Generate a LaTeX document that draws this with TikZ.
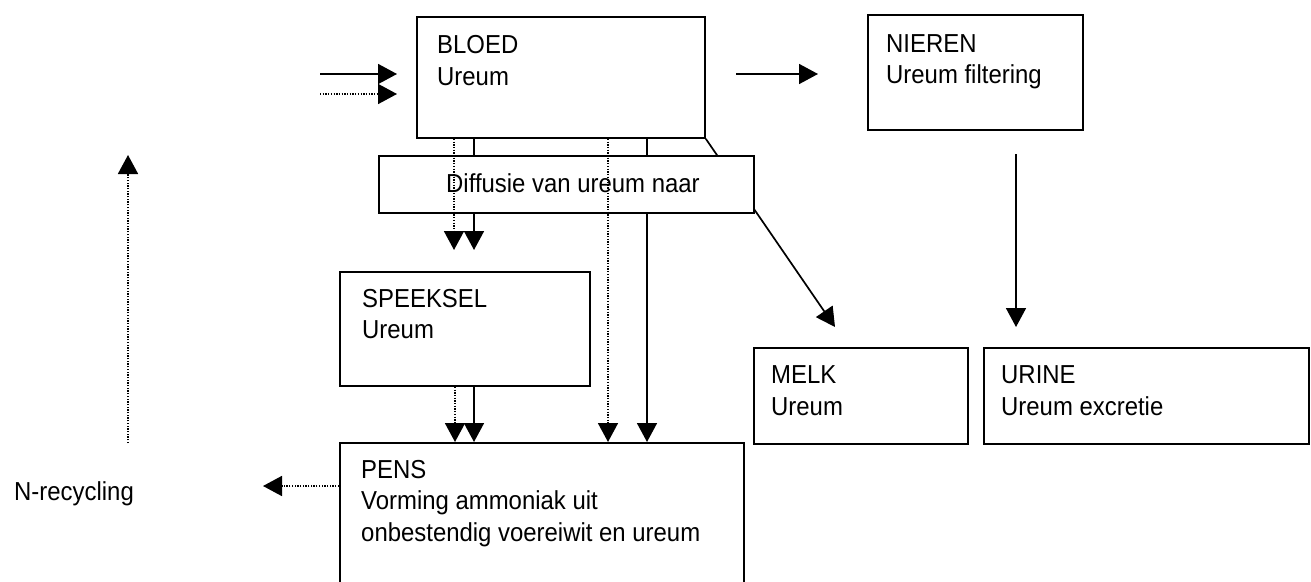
\documentclass[tikz,border=0pt]{standalone}
\usepackage{fontspec}
\setmainfont[FakeStretch=0.92]{Liberation Sans}
\usetikzlibrary{arrows.meta,calc}
\begin{document}
\begin{tikzpicture}[x=1pt,y=-1pt,
  box/.style={draw,line width=1.8pt,fill=white,anchor=north west,inner sep=0pt},
  txt/.style={anchor=base west,inner sep=0pt,font=\fontsize{26}{31}\selectfont},
  conn/.style={line width=1.7pt,-{Triangle[length=19pt,width=20pt]}},
  dots/.style={line width=1.7pt,dash pattern=on 1.3pt off 1.4pt},
  dconn/.style={dots,-{Triangle[length=19pt,width=20pt]}}]
\clip (0,0) rectangle (1311,581);
\fill[white] (0,0) rectangle (1311,581);
% boxes
\node[box,minimum width=288pt,minimum height=121pt] (bloed) at (416,16) {};
\node[box,minimum width=215pt,minimum height=115pt] (nieren) at (867,14) {};
\node[box,minimum width=250pt,minimum height=114pt] (speeksel) at (339,271) {};
\node[box,minimum width=214pt,minimum height=96pt] (melk) at (753,347) {};
\node[box,minimum width=325pt,minimum height=96pt] (urine) at (983,347) {};
\node[box,minimum width=404pt,minimum height=170pt] (pens) at (339,442) {};
% free-end coordinates
\coordinate (inA) at (320,74);
\coordinate (inAt) at (397,74);
\coordinate (inB) at (320,94);
\coordinate (inBt) at (397,94);
\coordinate (c1) at (454,250);
\coordinate (c2) at (474,250);
\coordinate (c3) at (608,0);
\coordinate (c4) at (647,0);
\coordinate (s1) at (455,0);
\coordinate (s2) at (474,0);
\coordinate (mtip) at (835,327);
\coordinate (nA) at (736,74);
\coordinate (nAt) at (818,74);
\coordinate (uA) at (1016,154);
\coordinate (uAt) at (1016,327);
\coordinate (upA) at (128,443);
\coordinate (upAt) at (128,155);
\coordinate (nrt) at (263,486);
% solid connectors
\draw[conn] (inA) -- (inAt);
\draw[dconn] (inB) -- (inBt);
\draw[conn] (bloed.south -| c2) -- (c2);
\draw[conn] (bloed.south -| c4) -- (pens.north -| c4);
\draw[conn] (bloed.south east) -- (mtip);
\draw[conn] (nA) -- (nAt);
\draw[conn] (uA) -- (uAt);
\draw[conn] (speeksel.south -| s2) -- (pens.north -| s2);
% diffusie box on top of solid lines
\node[box,minimum width=375pt,minimum height=57pt] (diff) at (378,155) {};
% dotted connectors
\draw[dconn] (bloed.south -| c1) -- (c1);
\draw[dconn] (bloed.south -| c3) -- (pens.north -| c3);
\draw[dconn] (speeksel.south -| s1) -- (pens.north -| s1);
\draw[dconn] (upA) -- (upAt);
\draw[dconn] (nrt -| pens.west) -- (nrt);
% texts
\node[txt] (t1) at (437,53) {BLOED};
\node[txt] (t2) at (437,85) {Ureum};
\node[txt] (t3) at (886,52) {NIEREN};
\node[txt] (t4) at (886,83) {Ureum filtering};
\node[txt] (t5) at (446,192) {Diffusie van ureum naar};
\node[txt] (t6) at (362,307) {SPEEKSEL};
\node[txt] (t7) at (362,338) {Ureum};
\node[txt] (t8) at (771,383) {MELK};
\node[txt] (t9) at (771,415) {Ureum};
\node[txt] (t10) at (1001,383) {URINE};
\node[txt] (t11) at (1001,415) {Ureum excretie};
\node[txt] (t12) at (361,478) {PENS};
\node[txt] (t13) at (361,509) {Vorming ammoniak uit};
\node[txt] (t14) at (361,541) {onbestendig voereiwit en ureum};
\node[txt] (t15) at (14,500) {N-recycling};
\end{tikzpicture}
\end{document}
